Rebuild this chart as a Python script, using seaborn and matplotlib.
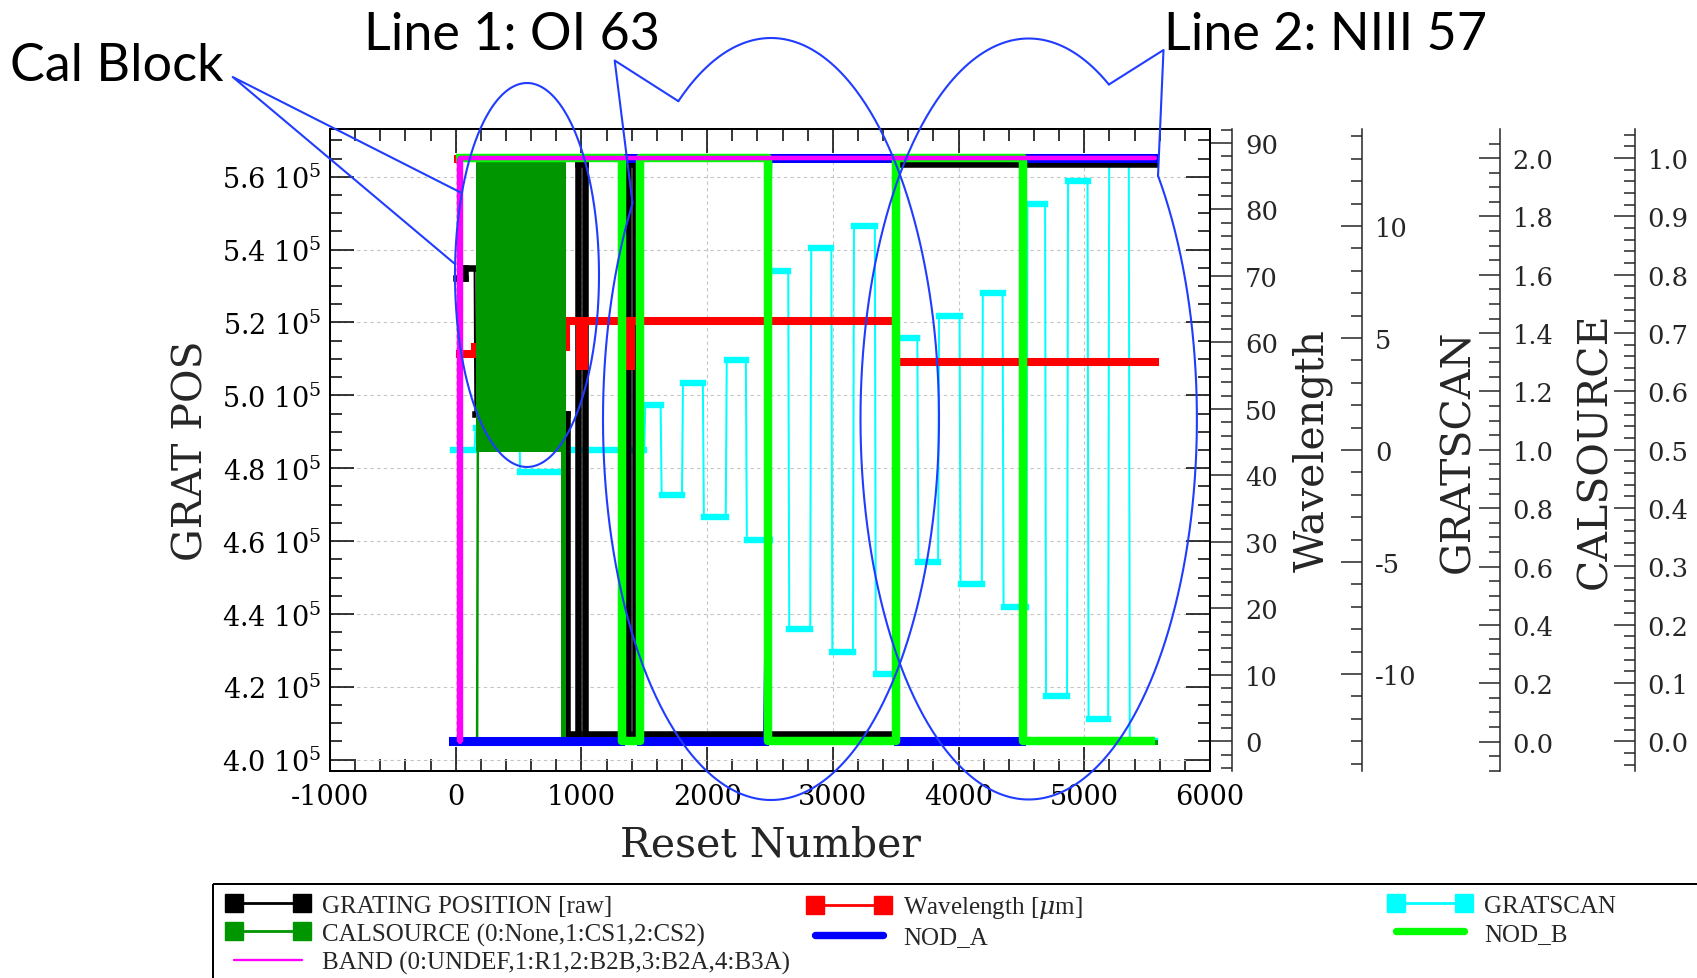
import numpy as np
import pandas as pd
import matplotlib
matplotlib.use("Agg")
import matplotlib.pyplot as plt
import seaborn as sns
from matplotlib.collections import LineCollection
from matplotlib.lines import Line2D
from matplotlib.legend_handler import HandlerLine2D
from matplotlib.patches import Rectangle
from matplotlib.ticker import MultipleLocator, FixedLocator, FuncFormatter

# ------------------------------------------------------------------ data
# GRATING POSITION [raw] (left axis)
grat_reset = [0, 70, 70, 150, 156, 885, 885, 970, 970, 1030, 1030, 1368, 1368,
              1428, 1428, 3500, 3515, 5565]
grat_pos = [532200, 532200, 535000, 535000, 495000, 495000, 407000, 407000,
            563500, 563500, 407000, 407000, 563500, 563500, 407000, 407000,
            563500, 563500]

# Wavelength [um] (first right axis)
wl_reset = [20, 30, 35, 150, 156, 878, 878, 985, 985, 1020, 1020, 1385, 1385,
            1395, 1395, 3495, 3515, 5565]
wl_um = [87.6, 87.6, 58.2, 58.2, 59.3, 59.3, 63.3, 63.3, 56.5, 56.5, 63.3, 63.3,
         56.5, 56.5, 63.3, 63.3, 57.1, 57.1]

# GRATSCAN step number (second right axis): reset at which each step starts
gs_change = [-20, 150, 505, 880, 1500, 1630, 1800, 1966, 2148, 2308, 2500, 2645,
             2820, 2988, 3160, 3334, 3500, 3672, 3837, 4008, 4185, 4350, 4540,
             4688, 4863, 5026, 5190, 5354, 5565]
gs_value = [0, 1, -1, 0, 2, -2, 3, -3, 4, -4, 8, -8, 9, -9, 10, -10, 5, -5, 6, -6,
            7, -7, 11, -11, 12, -12, 13, -13]

# CALSOURCE (third right axis)
cal_reset = [-15, 170, 176, 856, 856, 5565]
cal_state = [0, 0, 1, 2, 0, 0]
cal_chop_reset = [176, 856]          # fast CS1 <-> CS2 alternation
cal_chop_low = 1
cal_chop_high = 2

# NOD_A / NOD_B (fourth right axis)
noda_reset = [-20, 1310, 1330, 1455, 1475, 2452, 2510, 3495, 3515, 4500, 4530, 5549]
noda_state = [0, 0, 1, 1, 0, 0, 1, 1, 0, 0, 1, 1]
nodb_reset = [5, 1320, 1320, 1465, 1465, 2485, 2485, 3505, 3505, 4510, 4510, 5565]
nodb_state = [1, 1, 0, 0, 1, 1, 0, 0, 1, 1, 0, 0]

# BAND code
band_reset = [33, 33, 5565]
band_code = [0, 2, 2]

# ticks
main_xticks = [-1000, 0, 1000, 2000, 3000, 4000, 5000, 6000]
main_yticks = [400000, 420000, 440000, 460000, 480000, 500000, 520000, 540000, 560000]
wl_ticks = [0, 10, 20, 30, 40, 50, 60, 70, 80, 90]
gs_ticks = [-10, -5, 0, 5, 10]
cal_ticks = [0.0, 0.2, 0.4, 0.6, 0.8, 1.0, 1.2, 1.4, 1.6, 1.8, 2.0]
nod_ticks = [0.0, 0.1, 0.2, 0.3, 0.4, 0.5, 0.6, 0.7, 0.8, 0.9, 1.0]

legend_labels = ["GRATING POSITION [raw]", "CALSOURCE (0:None,1:CS1,2:CS2)",
                 "BAND (0:UNDEF,1:R1,2:B2B,3:B2A,4:B3A)", "Wavelength [$\\mu$m]",
                 "NOD_A", "GRATSCAN", "NOD_B"]

# ------------------------------------------------------------------ style
W, H = 1697, 979
sns.set_style("ticks")
plt.rcParams.update({
    "font.family": ["DejaVu Serif"],
    "mathtext.fontset": "dejavuserif",
    "axes.unicode_minus": False,
    "savefig.facecolor": "white",
})

C_BLACK, C_RED, C_CYAN = "#000000", "#ff0000", "#00ffff"
C_CAL, C_NODA, C_NODB, C_BAND = "#009600", "#0000ff", "#00ff00", "#ff00ff"
C_ANN = "#1f3cff"

fig = plt.figure(figsize=(W / 100, H / 100), dpi=100)
ax = fig.add_axes([330 / W, (H - 772) / H, 880 / W, 642 / H])
ax_wl = ax.twinx()
ax_gs = ax.twinx()
ax_cal = ax.twinx()
ax_nod = ax.twinx()


def draw_stepped(x, y, tr, color, lw_thick, lw_thin, z, cap="projecting",
                 lw_vert=None):
    x = np.asarray(x, dtype=float)
    y = np.asarray(y, dtype=float)
    frame = pd.DataFrame({"reset": x, "value": y})
    sns.lineplot(data=frame, x="reset", y="value", ax=ax, color=color,
                 linewidth=lw_thin, estimator=None, errorbar=None, sort=False,
                 legend=False, transform=tr, zorder=z)
    hor = [[(x[i], y[i]), (x[i + 1], y[i + 1])] for i in range(len(x) - 1)
           if y[i] == y[i + 1]]
    ver = [[(x[i], y[i]), (x[i + 1], y[i + 1])] for i in range(len(x) - 1)
           if x[i] == x[i + 1]]
    for segs, lw in ((hor, lw_thick), (ver, lw_vert or lw_thick)):
        if segs:
            ax.add_collection(LineCollection(segs, colors=color, linewidths=lw,
                                             capstyle=cap, transform=tr, zorder=z),
                              autolim=False)


# GRATSCAN plateaus -> sample points (last/first sample of consecutive steps)
gs_x, gs_y = [], []
for i, v in enumerate(gs_value):
    gs_x += [gs_change[i] + (8 if i > 0 else 0), gs_change[i + 1]]
    gs_y += [v, v]

draw_stepped(gs_x, gs_y, ax_gs.transData, C_CYAN, 4.6, 1.44, 3)
draw_stepped(grat_reset, grat_pos, ax.transData, C_BLACK, 4.7, 1.44, 4)
draw_stepped(wl_reset, wl_um, ax_wl.transData, C_RED, 5.8, 1.44, 5)
ax.fill_between(cal_chop_reset, cal_chop_low, cal_chop_high, transform=ax_cal.transData,
                facecolor=C_CAL, edgecolor=C_CAL, linewidth=2.9, zorder=6)
draw_stepped(cal_reset, cal_state, ax_cal.transData, C_CAL, 3.6, 1.8, 6)
draw_stepped(noda_reset, noda_state, ax_nod.transData, C_NODA, 6.5, 1.44, 7)
sns.lineplot(x=nodb_reset, y=nodb_state, ax=ax, color=C_NODB, linewidth=6.1,
             estimator=None, errorbar=None, sort=False, legend=False,
             transform=ax_nod.transData, zorder=8, solid_joinstyle="round",
             solid_capstyle="butt")
draw_stepped(band_reset, band_code, ax_cal.transData, C_BAND, 3.1, 3.1, 9,
             cap="butt", lw_vert=4.6)

# ------------------------------------------------------------------ axes
ax.set_xlim(-1000, 6000)
ax.set_ylim(396900, 573100)
ax.xaxis.set_major_locator(FixedLocator(main_xticks))
ax.xaxis.set_minor_locator(MultipleLocator(200))
ax.yaxis.set_major_locator(FixedLocator(main_yticks))
ax.yaxis.set_minor_locator(MultipleLocator(5000))
ax.xaxis.set_major_formatter(FuncFormatter(lambda v, p: f"{v:.0f}"))
ax.yaxis.set_major_formatter(
    FuncFormatter(lambda v, p: f"{v / 1e5:.1f} $\\mathregular{{10^{{5}}}}$"))
ax.tick_params(which="both", direction="in", top=True, right=True,
               width=1.1, colors="black")
ax.tick_params(which="major", length=17)
ax.tick_params(which="minor", length=8.6)
ax.tick_params(axis="x", which="major", labelsize=19.5, pad=9)
ax.tick_params(axis="y", which="major", labelsize=19.5, pad=6.5)
for s in ax.spines.values():
    s.set_linewidth(1.44)
    s.set_color("black")
ax.set_axisbelow(True)
ax.grid(True, which="major", color="#c4c4c4", linewidth=0.8, linestyle=(0, (3, 3)))

ax.set_xlabel("Reset Number", fontsize=29.5)
ax.xaxis.set_label_coords(0.5, -0.115)
ax.xaxis.label.set_va("center")
ax.set_ylabel("GRAT POS", fontsize=29.5)
ax.yaxis.set_label_coords(-0.1572, 0.5)
ax.yaxis.label.set_va("center")


def style_right(axr, pos, lim, ticks, minor, fmt):
    axr.set_ylim(*lim)
    for s in ["top", "bottom", "left"]:
        axr.spines[s].set_visible(False)
    axr.spines["right"].set_position(("axes", pos))
    axr.spines["right"].set_linewidth(1.1)
    axr.yaxis.set_major_locator(FixedLocator(ticks))
    axr.yaxis.set_minor_locator(MultipleLocator(minor))
    axr.yaxis.set_major_formatter(FuncFormatter(fmt))
    axr.tick_params(axis="y", which="both", direction="in", width=1.1, right=True)
    axr.tick_params(axis="y", which="major", length=15, labelsize=18.5, pad=9.5)
    axr.tick_params(axis="y", which="minor", length=8)


style_right(ax_wl, 1.0247, (-4.44, 92.1), wl_ticks, 2, lambda v, p: f"{v:.0f}")
style_right(ax_gs, 1.1723, (-14.33, 14.33), gs_ticks, 1, lambda v, p: f"{v:.0f}")
style_right(ax_cal, 1.329, (-0.101, 2.0998), cal_ticks, 0.05, lambda v, p: f"{v:.1f}")
style_right(ax_nod, 1.4824, (-0.0506, 1.0499), nod_ticks, 0.02, lambda v, p: f"{v:.1f}")

for axr, lab, xc in [(ax_wl, "Wavelength", 1.117), (ax_gs, "GRATSCAN", 1.2824),
                     (ax_cal, "CALSOURCE", 1.4375)]:
    axr.set_ylabel(lab, fontsize=29.5)
    axr.yaxis.set_label_coords(xc, 0.5)
    axr.yaxis.label.set_va("center")

# ------------------------------------------------------------------ legend
lp = dict(family="Liberation Serif", size=18)
h_grat = Line2D([], [], color=C_BLACK, lw=2, marker="s", ms=12.5)
h_cal = Line2D([], [], color=C_CAL, lw=2, marker="s", ms=12.5)
h_band = Line2D([], [], color=C_BAND, lw=1.7)
h_wl = Line2D([], [], color=C_RED, lw=2, marker="s", ms=12.5)
h_noda = Line2D([], [], color=C_NODA, lw=5.3)
h_gs = Line2D([], [], color=C_CYAN, lw=2, marker="s", ms=12.5)
h_nodb = Line2D([], [], color=C_NODB, lw=5.3)
cols = [([h_grat, h_cal, h_band], legend_labels[0:3], 234),
        ([h_wl, h_noda], legend_labels[3:5], 815),
        ([h_gs, h_nodb], legend_labels[5:7], 1396)]
for hs, ls, x0 in cols:
    fig.legend(hs, ls, loc="upper left", bbox_to_anchor=(x0 / W, 1 - 895.5 / H),
               bbox_transform=fig.transFigure, frameon=False, prop=lp,
               borderpad=0, borderaxespad=0, handlelength=2.72,
               handletextpad=0.8, labelspacing=0.22, numpoints=2,
               handler_map={Line2D: HandlerLine2D(marker_pad=0, numpoints=2)})

# ------------------------------------------------------------------ annotations
ax_ov = fig.add_axes([0, 0, 1, 1], zorder=20)
ax_ov.set_xlim(0, W)
ax_ov.set_ylim(H, 0)
ax_ov.axis("off")
ax_ov.add_patch(Rectangle((213, 885), 1600, 200, fill=False, lw=1.44, ec="black"))


def ell_point(cx, cy, a, b, t):
    return cx + a * np.cos(t), cy + b * np.sin(t)


def callout(cx, cy, a, b, p, q=None, tip=None):
    if p is None:
        t = np.linspace(0, 2 * np.pi, 500)
        ax_ov.plot(*ell_point(cx, cy, a, b, t), color=C_ANN, lw=1.5)
        return
    ta = np.arctan2((p[1] - cy) / b, (p[0] - cx) / a)
    tb = np.arctan2((q[1] - cy) / b, (q[0] - cx) / a)
    d = (tb - ta) % (2 * np.pi)
    t = np.linspace(tb, ta + 2 * np.pi, 500) if d < np.pi else np.linspace(ta, ta + d, 500)
    ax_ov.plot(*ell_point(cx, cy, a, b, t), color=C_ANN, lw=1.5)
    pa = ell_point(cx, cy, a, b, ta)
    pb = ell_point(cx, cy, a, b, tb)
    ax_ov.plot([pa[0], tip[0], pb[0]], [pa[1], tip[1], pb[1]], color=C_ANN, lw=1.5)


callout(527, 276, 72, 192, None)
ax_ov.plot([461.7, 232.7, 455], [194, 78, 265], color=C_ANN, lw=1.5)
callout(771, 420, 168, 381, (678.6, 103), (633, 205), (614.7, 61.5))
callout(1028.7, 420, 168.2, 380.5, (1109, 85), (1160, 173), (1163.5, 51))

tf = dict(family="Lato", fontsize=37.5, va="baseline", ha="left", color="black")
ax_ov.text(10, 81, "Cal Block", **tf)
ax_ov.text(364, 50, "Line 1: OI 63", **tf)
ax_ov.text(1164, 50, "Line 2: NIII 57", **tf)

fig.savefig("out.png", dpi=100)
